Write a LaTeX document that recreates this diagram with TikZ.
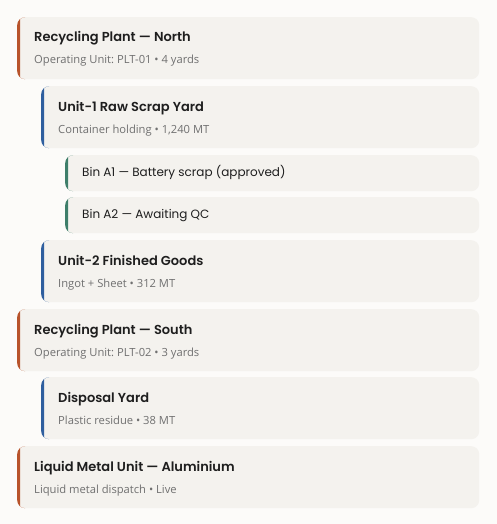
\documentclass[tikz,border=0pt]{standalone}
\usepackage{fontspec}
\setmainfont{Poppins}[BoldFont={Poppins SemiBold}]
\newfontfamily\subfont{Open Sans}
\frenchspacing
\definecolor{bgc}{HTML}{FCFBF9}
\definecolor{cardc}{HTML}{F4F2EE}
\definecolor{rust}{HTML}{B8532B}
\definecolor{blueacc}{HTML}{2F5F9F}
\definecolor{greenacc}{HTML}{3E7E6A}
\definecolor{titlec}{HTML}{1E1E1E}
\definecolor{subc}{HTML}{707070}
\tikzset{
  card/.style={rectangle, rounded corners=8pt, fill=cardc, inner sep=0pt, anchor=north west,
    minimum width=#1, minimum height=62pt},
  bincard/.style={rectangle, rounded corners=8pt, fill=cardc, inner sep=0pt, anchor=north west,
    minimum width=414pt, minimum height=36pt},
  accent/.style={path picture={\fill[#1] (path picture bounding box.north west)
      -- ([xshift=8pt]path picture bounding box.north west)
      arc[start angle=90,end angle=180,x radius=5pt,y radius=8pt]
      -- ([xshift=3pt,yshift=8pt]path picture bounding box.south west)
      arc[start angle=180,end angle=270,x radius=5pt,y radius=8pt]
      -- (path picture bounding box.south west) -- cycle;}},
  titletext/.style={anchor=base west, inner sep=0pt, text=titlec, font=\fontsize{13}{15}\selectfont\bfseries},
  subtext/.style={anchor=base west, inner sep=0pt, text=subc, font=\subfont\fontsize{11.2}{13}\selectfont},
  bintext/.style={anchor=base west, inner sep=0pt, text=titlec, font=\fontsize{12}{14}\selectfont},
}
\begin{document}
\begin{tikzpicture}[x=1pt,y=1pt]
\useasboundingbox (0,0) rectangle (497,-524);
\fill[bgc] (0,0) rectangle (497,-524);
% cards
\node[card=462pt, accent=rust] (north) at (17,-17) {};
\node[card=438pt, accent=blueacc] (unit1) at (41,-86) {};
\node[bincard, accent=greenacc] (binA1) at (65,-155) {};
\node[bincard, accent=greenacc] (binA2) at (65,-197) {};
\node[card=438pt, accent=blueacc] (unit2) at (41,-240) {};
\node[card=462pt, accent=rust] (south) at (17,-309) {};
\node[card=438pt, accent=blueacc] (disp) at (41,-377) {};
\node[card=462pt, accent=rust] (liquid) at (17,-446) {};
% texts
\node[titletext] (northT) at ([shift={(17,-25)}]north.north west) {Recycling Plant — North};
\node[subtext] (northS) at ([shift={(17,-47)}]north.north west) {Operating Unit: PLT-01 • 4 yards};
\node[titletext] (unit1T) at ([shift={(17,-25)}]unit1.north west) {Unit-1 Raw Scrap Yard};
\node[subtext] (unit1S) at ([shift={(17,-47)}]unit1.north west) {Container holding • 1,240 MT};
\node[bintext] (binA1T) at ([shift={(17,-21.7)}]binA1.north west) {Bin A1 — Battery scrap (approved)};
\node[bintext] (binA2T) at ([shift={(17,-21.7)}]binA2.north west) {Bin A2 — Awaiting QC};
\node[titletext] (unit2T) at ([shift={(17,-25)}]unit2.north west) {Unit-2 Finished Goods};
\node[subtext] (unit2S) at ([shift={(17,-47)}]unit2.north west) {Ingot + Sheet • 312 MT};
\node[titletext] (southT) at ([shift={(17,-25)}]south.north west) {Recycling Plant — South};
\node[subtext] (southS) at ([shift={(17,-47)}]south.north west) {Operating Unit: PLT-02 • 3 yards};
\node[titletext] (dispT) at ([shift={(17,-25)}]disp.north west) {Disposal Yard};
\node[subtext] (dispS) at ([shift={(17,-47)}]disp.north west) {Plastic residue • 38 MT};
\node[titletext] (liquidT) at ([shift={(17,-25)}]liquid.north west) {Liquid Metal Unit — Aluminium};
\node[subtext] (liquidS) at ([shift={(17,-47)}]liquid.north west) {Liquid metal dispatch • Live};
\end{tikzpicture}
\end{document}
